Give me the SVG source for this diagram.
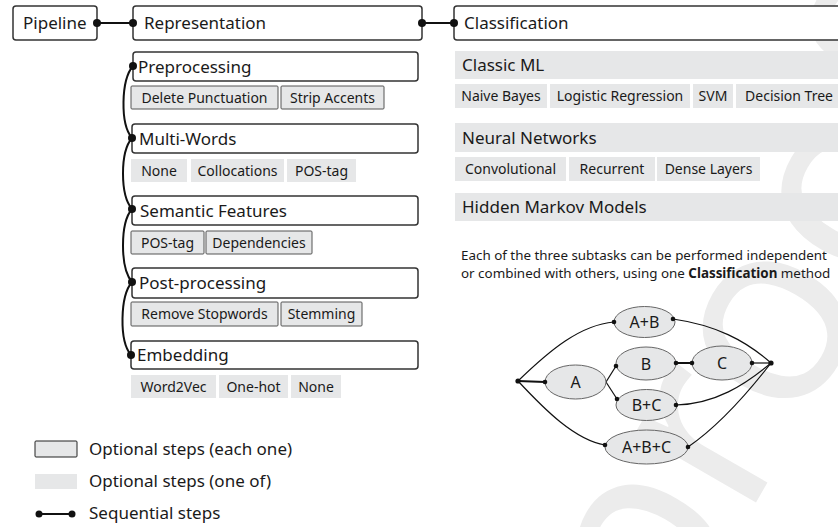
<svg xmlns="http://www.w3.org/2000/svg" width="838" height="527" viewBox="0 0 838 527">
<style>
text{font-family:"Noto Sans","Open Sans","DejaVu Sans",sans-serif;fill:#1a1a1a}
.main{fill:#fff;stroke:#333;stroke-width:1.5}
.t17{font-size:17px}
.each{fill:#e6e7e8;stroke:#555;stroke-width:1}
.one{fill:#e6e7e8}
.opt{font-size:14px;text-anchor:middle}
.note{font-size:13.4px}
.con{fill:none;stroke:#111;stroke-width:2}
.dot{fill:#111}
.gcon{fill:none;stroke:#111;stroke-width:1.2}
.ell{fill:#e6e7e8;stroke:#666;stroke-width:1}
.gl{font-size:16px;text-anchor:middle}
.wm{font-size:260px;fill:#ececec;font-family:"Noto Sans",sans-serif}
</style>
<text class="wm" transform="translate(665,660) rotate(-60)">proof</text>
<g id="pipeline"><rect class="main" x="13" y="6" width="84" height="34" rx="3"/><text class="t17" x="23" y="29">Pipeline</text></g>
<g id="representation"><rect class="main" x="133" y="6" width="289" height="34" rx="3"/><text class="t17" x="144" y="29">Representation</text></g>
<g id="classification"><rect class="main" x="454" y="6" width="400" height="34" rx="3"/><text class="t17" x="464" y="29">Classification</text></g>
<g id="preprocessing"><rect class="main" x="133" y="52" width="285" height="29" rx="3"/><text class="t17" x="138" y="72.5">Preprocessing</text>
<rect class="each" x="131" y="86" width="147" height="23" rx="1"/><text class="opt" x="204.5" y="102.5">Delete Punctuation</text>
<rect class="each" x="281" y="86" width="103" height="23" rx="1"/><text class="opt" x="332.5" y="102.5">Strip Accents</text></g>
<g id="multiwords"><rect class="main" x="132" y="124" width="286" height="29" rx="3"/><text class="t17" x="139" y="144.5">Multi-Words</text>
<rect class="one" x="131" y="159" width="56" height="23"/><text class="opt" x="159" y="175.5">None</text>
<rect class="one" x="191" y="159" width="93" height="23"/><text class="opt" x="237.5" y="175.5">Collocations</text>
<rect class="one" x="287" y="159" width="69" height="23"/><text class="opt" x="321.5" y="175.5">POS-tag</text></g>
<g id="semantic"><rect class="main" x="132" y="196" width="286" height="29" rx="3"/><text class="t17" x="140" y="216.5">Semantic Features</text>
<rect class="each" x="131" y="231" width="73" height="23" rx="1"/><text class="opt" x="167.5" y="247.5">POS-tag</text>
<rect class="each" x="206" y="231" width="106" height="23" rx="1"/><text class="opt" x="259" y="247.5">Dependencies</text></g>
<g id="postprocessing"><rect class="main" x="132" y="268" width="286" height="30" rx="3"/><text class="t17" x="139" y="289">Post-processing</text>
<rect class="each" x="131" y="302" width="147" height="24" rx="1"/><text class="opt" x="204.5" y="319">Remove Stopwords</text>
<rect class="each" x="281" y="302" width="81" height="24" rx="1"/><text class="opt" x="321.5" y="319">Stemming</text></g>
<g id="embedding"><rect class="main" x="131" y="341" width="287" height="28" rx="3"/><text class="t17" x="137" y="361">Embedding</text>
<rect class="one" x="131" y="375" width="85" height="23"/><text class="opt" x="173.5" y="391.5">Word2Vec</text>
<rect class="one" x="219" y="375" width="69" height="23"/><text class="opt" x="253.5" y="391.5">One-hot</text>
<rect class="one" x="291" y="375" width="50" height="23"/><text class="opt" x="316" y="391.5">None</text></g>
<g id="classicml"><rect class="one" x="455" y="51" width="400" height="28"/><text class="t17" x="462" y="71">Classic ML</text>
<rect class="one" x="455" y="84" width="92" height="24"/><text class="opt" x="501" y="101">Naive Bayes</text>
<rect class="one" x="550" y="84" width="140" height="24"/><text class="opt" x="620" y="101">Logistic Regression</text>
<rect class="one" x="693" y="84" width="40" height="24"/><text class="opt" x="713" y="101">SVM</text>
<rect class="one" x="736" y="84" width="102" height="24"/><text class="opt" x="789" y="101">Decision Tree</text></g>
<g id="neural"><rect class="one" x="455" y="123" width="400" height="29"/><text class="t17" x="462" y="143.5">Neural Networks</text>
<rect class="one" x="455" y="157" width="111" height="24"/><text class="opt" x="510.5" y="174">Convolutional</text>
<rect class="one" x="569" y="157" width="86" height="24"/><text class="opt" x="612" y="174">Recurrent</text>
<rect class="one" x="657" y="157" width="103" height="24"/><text class="opt" x="708.5" y="174">Dense Layers</text></g>
<g id="hmm"><rect class="one" x="455" y="193" width="400" height="28"/><text class="t17" x="462" y="213">Hidden Markov Models</text></g>
<g id="note"><text class="note" x="461" y="260">Each of the three subtasks can be performed independent</text>
<text class="note" x="461" y="277.5">or combined with others, using one <tspan style="font-weight:bold">Classification</tspan> method</text></g>
<g id="connectors">
<line class="con" x1="97" y1="23" x2="133" y2="23"/><circle class="dot" cx="97" cy="23" r="4"/><circle class="dot" cx="133" cy="23" r="4"/>
<line class="con" x1="422" y1="23" x2="454" y2="23"/><circle class="dot" cx="422" cy="23" r="4"/><circle class="dot" cx="454" cy="23" r="4"/>
<path class="con" d="M133,66 C121,80 120,124 132,138"/>
<path class="con" d="M132,138 C120,152 120,195 132,209"/>
<path class="con" d="M132,209 C120,223 120,268 132,282"/>
<path class="con" d="M132,282 C120,296 119,341 131,355"/>
<circle class="dot" cx="133" cy="66" r="4"/><circle class="dot" cx="132" cy="138" r="4"/><circle class="dot" cx="132" cy="209" r="4"/><circle class="dot" cx="132" cy="282" r="4"/><circle class="dot" cx="131" cy="355" r="4"/>
</g>
<g id="graph-edges">
<path class="gcon" d="M518,381 L545,382" style="stroke-width:2"/>
<path class="gcon" d="M518,381 C550,350 580,325 614,322"/>
<path class="gcon" d="M518,381 C545,410 575,440 605,445"/>
<path class="gcon" d="M606,382 L616,366"/>
<path class="gcon" d="M606,382 L617,399"/>
<path class="gcon" d="M676,363 L692,363" style="stroke-width:2"/>
<path class="gcon" d="M752,363 L771,363"/>
<path class="gcon" d="M673,319 C715,325 745,340 771,363"/>
<path class="gcon" d="M676,405 C715,404 745,385 771,363"/>
<path class="gcon" d="M688,447 C720,425 750,390 771,363"/>
</g>
<g id="node-AB"><ellipse class="ell" cx="644.5" cy="322" rx="30.5" ry="15.5"/><text class="gl" x="644.5" y="328">A+B</text></g>
<g id="node-A"><ellipse class="ell" cx="575.5" cy="382" rx="30.5" ry="17"/><text class="gl" x="575.5" y="388">A</text></g>
<g id="node-B"><ellipse class="ell" cx="646" cy="363.5" rx="30" ry="16.5"/><text class="gl" x="646" y="369.5">B</text></g>
<g id="node-C"><ellipse class="ell" cx="722" cy="363" rx="30" ry="17"/><text class="gl" x="722" y="369">C</text></g>
<g id="node-BC"><ellipse class="ell" cx="646.5" cy="405" rx="30.5" ry="15.5"/><text class="gl" x="646.5" y="411">B+C</text></g>
<g id="node-ABC"><ellipse class="ell" cx="646.5" cy="447" rx="41.5" ry="17"/><text class="gl" x="646.5" y="453">A+B+C</text></g>
<g id="graph-dots">
<circle class="dot" cx="518" cy="381" r="2.6"/><circle class="dot" cx="771" cy="363" r="2.6"/>
<circle class="dot" cx="545" cy="382" r="2.3"/>
<circle class="dot" cx="614" cy="322" r="2.3"/><circle class="dot" cx="673" cy="319" r="2.3"/>
<circle class="dot" cx="616" cy="366" r="2.3"/><circle class="dot" cx="676" cy="363" r="2.3"/>
<circle class="dot" cx="692" cy="363" r="2.3"/><circle class="dot" cx="752" cy="363" r="2.3"/>
<circle class="dot" cx="617" cy="399" r="2.3"/><circle class="dot" cx="676" cy="405" r="2.3"/>
<circle class="dot" cx="605" cy="445" r="2.3"/><circle class="dot" cx="688" cy="447" r="2.3"/>
</g>
<g id="legend">
<rect class="each" x="35" y="441" width="42" height="16" rx="1" style="stroke:#222"/><text class="t17" x="89" y="455">Optional steps (each one)</text>
<rect class="one" x="35" y="474" width="42" height="15"/><text class="t17" x="89" y="487">Optional steps (one of)</text>
<line class="con" x1="39" y1="514" x2="72" y2="514"/><circle class="dot" cx="39" cy="514" r="3.5"/><circle class="dot" cx="72" cy="514" r="3.5"/><text class="t17" x="89" y="519">Sequential steps</text>
</g>
</svg>
